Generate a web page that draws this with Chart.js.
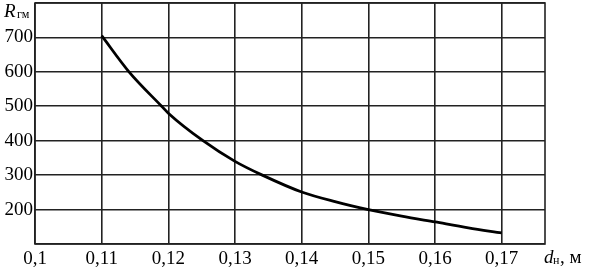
<!DOCTYPE html>
<html>
<head>
<meta charset="utf-8">
<script src="https://cdn.jsdelivr.net/npm/chart.js@4"></script>
<style>
html,body{margin:0;padding:0;background:#fff;}
#wrap{width:589px;height:271px;position:relative;}
</style>
</head>
<body>
<div id="wrap"><canvas id="c" width="589" height="271"></canvas></div>
<script>
const dValues = [0.11, 0.1141, 0.119, 0.12, 0.1252, 0.13, 0.1341, 0.14, 0.145, 0.15, 0.155, 0.16, 0.165, 0.17];
const rValues = [705, 600, 500, 480, 400, 340, 300, 251, 223, 200, 181, 164, 147, 132];
const xTicks = [0.10, 0.11, 0.12, 0.13, 0.14, 0.15, 0.16, 0.17];
const yTicks = [100, 200, 300, 400, 500, 600, 700, 800];
const yLabelled = [200, 300, 400, 500, 600, 700];
const X_MIN = 0.1, X_MAX = 0.1765, Y_MIN = 100, Y_MAX = 800;

const FONT = "'Liberation Serif', 'DejaVu Serif', serif";
const GRID = '#222';

const labelsPlugin = {
  id: 'axisTitles',
  afterDraw(chart) {
    const ctx = chart.ctx;
    const a = chart.chartArea;
    ctx.save();
    ctx.strokeStyle = GRID;
    ctx.lineWidth = 1.6;
    ctx.strokeRect(a.left, a.top, a.right - a.left, a.bottom - a.top);
    ctx.fillStyle = '#000';
    ctx.textBaseline = 'alphabetic';
    ctx.textAlign = 'left';
    // R_гм
    ctx.font = "italic 19px " + FONT;
    ctx.fillText('R', 4, 17);
    ctx.font = "12px " + FONT;
    ctx.fillText('гм', 17, 18);
    // d_н, м
    const y = 264;
    ctx.font = "italic 19px " + FONT;
    ctx.fillText('d', 544, y - 1);
    ctx.font = "12px " + FONT;
    ctx.fillText('н', 553, y);
    ctx.font = "19px " + FONT;
    ctx.fillText(', м', 560, y - 1);
    ctx.restore();
  }
};

new Chart(document.getElementById('c'), {
  type: 'line',
  data: {
    datasets: [{
      data: dValues.map((d, i) => ({x: d, y: rValues[i]})),
      borderColor: '#000',
      borderWidth: 2.8,
      pointRadius: 0,
      fill: false,
      cubicInterpolationMode: 'monotone'
    }]
  },
  options: {
    responsive: false,
    animation: false,
    devicePixelRatio: 1,
    layout: {padding: {top: 3, right: 44, left: 0, bottom: 0}},
    plugins: {legend: {display: false}, tooltip: {enabled: false}},
    scales: {
      x: {
        type: 'linear',
        min: X_MIN, max: X_MAX,
        afterBuildTicks(s) { s.ticks = xTicks.map(v => ({value: v})); },
        afterFit(s) { s.height = 27; s.paddingLeft = 0; s.paddingRight = 0; },
        grid: {color: GRID, lineWidth: 1.6, drawTicks: false},
        border: {display: false},
        ticks: {
          color: '#000',
          font: {family: FONT, size: 19},
          padding: 4,
          maxRotation: 0,
          autoSkip: false,
          callback: v => String(parseFloat(v.toFixed(2))).replace('.', ',')
        }
      },
      y: {
        type: 'linear',
        min: Y_MIN, max: Y_MAX,
        afterBuildTicks(s) { s.ticks = yTicks.map(v => ({value: v})); },
        afterFit(s) { s.width = 35; s.paddingTop = 0; s.paddingBottom = 0; },
        grid: {color: GRID, lineWidth: 1.6, drawTicks: false},
        border: {display: false},
        ticks: {
          color: '#000',
          font: {family: FONT, size: 19},
          padding: 2,
          autoSkip: false,
          callback: v => yLabelled.includes(v) ? String(v) : ''
        }
      }
    }
  },
  plugins: [labelsPlugin]
});
</script>
</body>
</html>
